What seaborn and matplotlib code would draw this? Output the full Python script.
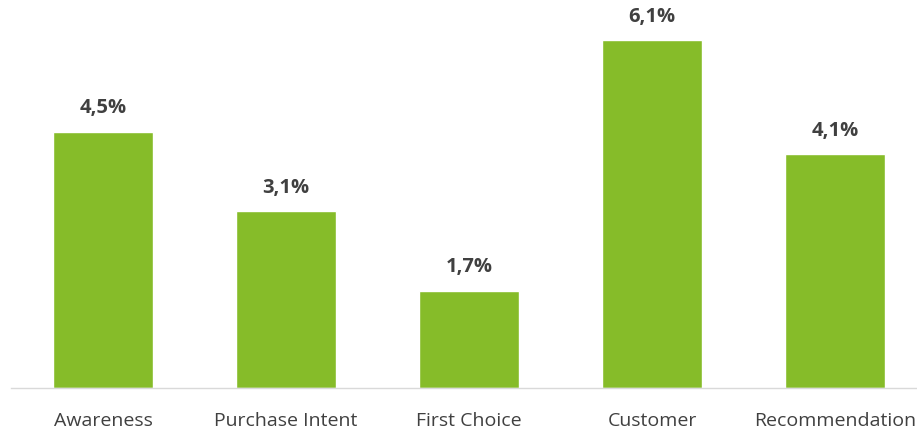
import matplotlib
matplotlib.use("Agg")
import matplotlib.pyplot as plt
import seaborn as sns
import pandas as pd

# 数据
categories = ["Awareness", "Purchase Intent", "First Choice", "Customer", "Recommendation"]
values = [4.5, 3.1, 1.7, 6.1, 4.1]
labels = ["4,5%", "3,1%", "1,7%", "6,1%", "4,1%"]

sns.set_style("white")
plt.rcParams["font.family"] = ["Open Sans", "DejaVu Sans"]

df = pd.DataFrame({"cat": categories, "val": values})

fig = plt.figure(figsize=(9.17, 4.32), dpi=100)
ax = fig.add_axes([11 / 917, 44 / 432, 906 / 917, 388 / 432])

sns.barplot(data=df, x="cat", y="val", color="#86BC29", saturation=1,
            width=0.546, ax=ax)

ax.set_xlim(-0.503, 4.448)
ax.set_ylim(0, 388 / 57)

for i, (v, t) in enumerate(zip(values, labels)):
    ax.annotate(t, (i, v), xytext=(0, 17), textcoords="offset points",
                ha="center", va="center", fontsize=14.5, fontweight="bold",
                color="#404040")

ax.set_xlabel("")
ax.set_ylabel("")
ax.set_yticks([])
ax.tick_params(axis="x", length=0, pad=17, labelsize=14, labelcolor="#404040")
for s in ["top", "right", "left"]:
    ax.spines[s].set_visible(False)
ax.spines["bottom"].set_color("#D9D9D9")
ax.spines["bottom"].set_linewidth(1)

fig.savefig("out.png", dpi=100)
